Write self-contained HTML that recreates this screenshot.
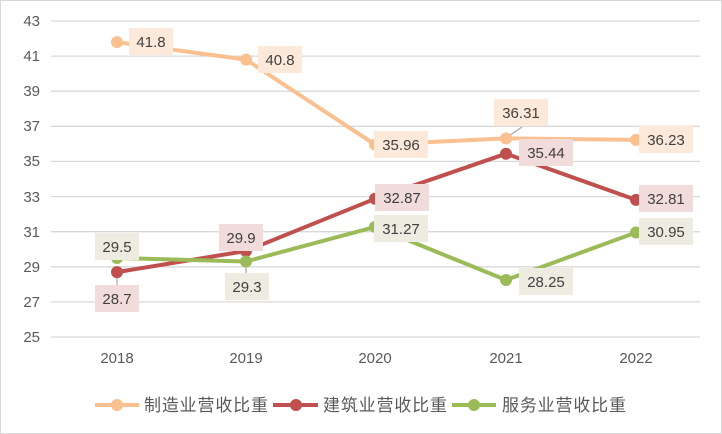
<!DOCTYPE html>
<html><head><meta charset="utf-8"><style>
body{margin:0;background:#fff}
svg{display:block;font-family:"Liberation Sans","Noto Sans CJK SC",sans-serif}
</style></head><body>
<svg width="722" height="434" viewBox="0 0 722 434" xmlns="http://www.w3.org/2000/svg">
<rect x="0.5" y="0.5" width="721" height="433" fill="#fff" stroke="#D9D9D9"/>
<g stroke="#D9D9D9" stroke-width="1.3">
<line x1="51" x2="700" y1="21" y2="21"/><line x1="51" x2="700" y1="56.1" y2="56.1"/><line x1="51" x2="700" y1="91.2" y2="91.2"/><line x1="51" x2="700" y1="126.3" y2="126.3"/><line x1="51" x2="700" y1="161.4" y2="161.4"/><line x1="51" x2="700" y1="196.6" y2="196.6"/><line x1="51" x2="700" y1="231.7" y2="231.7"/><line x1="51" x2="700" y1="266.8" y2="266.8"/><line x1="51" x2="700" y1="301.9" y2="301.9"/><line x1="51" x2="700" y1="337" y2="337"/>
</g>
<g fill="#595959" font-size="15" text-anchor="end">
<text x="40" y="26">43</text><text x="40" y="61">41</text><text x="40" y="96">39</text><text x="40" y="131">37</text><text x="40" y="166">35</text><text x="40" y="202">33</text><text x="40" y="237">31</text><text x="40" y="272">29</text><text x="40" y="307">27</text><text x="40" y="342">25</text>
</g>
<g fill="#595959" font-size="15" text-anchor="middle">
<text x="117" y="363">2018</text><text x="246" y="363">2019</text><text x="375" y="363">2020</text><text x="506" y="363">2021</text><text x="636" y="363">2022</text>
</g>
<g stroke="#A6A6A6" stroke-width="1.2">
<line x1="506" y1="138" x2="522" y2="127"/>
<line x1="117" y1="273" x2="117" y2="286"/>
<line x1="246" y1="262" x2="246" y2="273"/>
</g>
<g fill="none" stroke-width="4" stroke-linejoin="round">
<polyline stroke="#FAC090" points="117,42.1 246,59.6 375,144.6 506,138.4 636,139.9"/>
<polyline stroke="#C0504D" points="117,272.1 246,251 375,198.8 506,153.7 636,199.9"/>
<polyline stroke="#9BBB59" points="117,258 246,261.5 375,226.9 506,280 636,232.5"/>
</g>
<g fill="#FAC090"><circle cx="117" cy="42.1" r="6"/><circle cx="246" cy="59.6" r="6"/><circle cx="375" cy="144.6" r="6"/><circle cx="506" cy="138.4" r="6"/><circle cx="636" cy="139.9" r="6"/></g>
<g fill="#C0504D"><circle cx="117" cy="272.1" r="6"/><circle cx="246" cy="251" r="6"/><circle cx="375" cy="198.8" r="6"/><circle cx="506" cy="153.7" r="6"/><circle cx="636" cy="199.9" r="6"/></g>
<g fill="#9BBB59"><circle cx="117" cy="258" r="6"/><circle cx="246" cy="261.5" r="6"/><circle cx="375" cy="226.9" r="6"/><circle cx="506" cy="280" r="6"/><circle cx="636" cy="232.5" r="6"/></g>
<g font-size="15" fill="#404040" text-anchor="middle">
<g fill="#FDE9D9">
<rect x="129" y="28" width="44" height="27"/><rect x="258" y="46" width="44" height="27"/><rect x="374" y="131" width="54" height="27"/><rect x="494" y="99" width="54" height="27"/><rect x="639" y="126" width="54" height="27"/>
</g>
<g fill="#F2DCDB">
<rect x="95" y="285" width="44" height="27"/><rect x="219" y="224" width="44" height="27"/><rect x="375" y="184" width="54" height="27"/><rect x="519" y="139" width="54" height="27"/><rect x="639" y="185" width="54" height="27"/>
</g>
<g fill="#EEECE1">
<rect x="95" y="233" width="44" height="27"/><rect x="225" y="273" width="44" height="27"/><rect x="374" y="215" width="54" height="27"/><rect x="519" y="268" width="54" height="27"/><rect x="639" y="218" width="54" height="27"/>
</g>
<text x="151" y="47">41.8</text><text x="280" y="65">40.8</text><text x="401" y="150">35.96</text><text x="521" y="118">36.31</text><text x="666" y="145">36.23</text>
<text x="117" y="304">28.7</text><text x="241" y="243">29.9</text><text x="402" y="203">32.87</text><text x="546" y="158">35.44</text><text x="666" y="204">32.81</text>
<text x="117" y="252">29.5</text><text x="247" y="292">29.3</text><text x="401" y="234">31.27</text><text x="546" y="287">28.25</text><text x="666" y="237">30.95</text>
</g>
<g stroke-width="4">
<line x1="95" y1="405" x2="139" y2="405" stroke="#FAC090"/><circle cx="117" cy="405" r="6" fill="#FAC090"/>
<line x1="273" y1="405" x2="318" y2="405" stroke="#C0504D"/><circle cx="296" cy="405" r="6" fill="#C0504D"/>
<line x1="452" y1="405" x2="496" y2="405" stroke="#9BBB59"/><circle cx="474" cy="405" r="6" fill="#9BBB59"/>
</g>
<g font-size="17" fill="#595959">
<text x="144" y="411" textLength="124">制造业营收比重</text><text x="323" y="411" textLength="124">建筑业营收比重</text><text x="502" y="411" textLength="124">服务业营收比重</text>
</g>
</svg>
</body></html>
